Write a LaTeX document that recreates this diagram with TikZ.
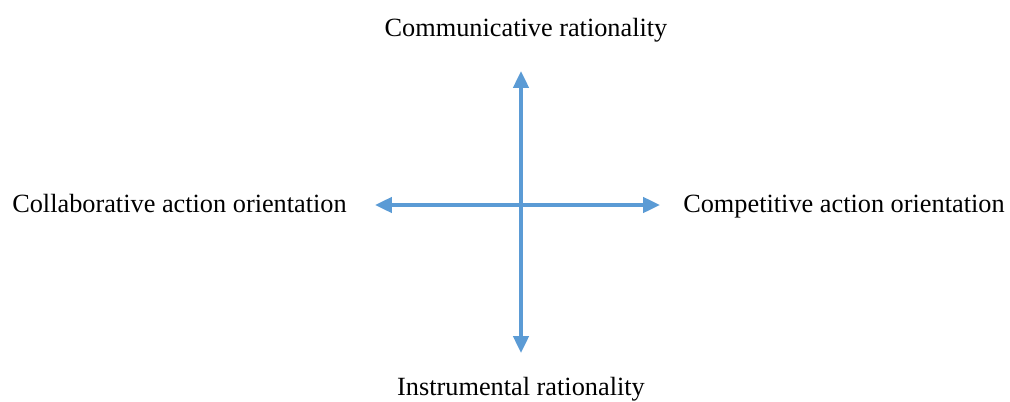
\documentclass[tikz,border=0pt]{standalone}
\usepackage{fontspec}
\setmainfont{Liberation Serif}
\usepackage{tikz}
\usetikzlibrary{arrows.meta,positioning}
\definecolor{axisblue}{HTML}{5B9BD5}

\begin{document}
\begin{tikzpicture}[
  x=0.025cm,y=-0.025cm,
  label/.style={inner sep=0pt,font=\fontsize{18.7}{22}\selectfont},
  axis/.style={{Triangle[length=0.42cm,width=0.38cm]}-{Triangle[length=0.42cm,width=0.38cm]},
    line width=2.4pt,color=axisblue}
]
  \useasboundingbox (0,0) rectangle (1010,401);
  % axis end points
  \coordinate (top) at (521,71);
  \coordinate (bottom) at (521,353);
  \coordinate (left) at (375,205);
  \coordinate (right) at (660,205);

  \node[label,anchor=base] (comm) at (526,36) {Communicative rationality};
  \node[label,anchor=base] (instr) at (521,395) {Instrumental rationality};
  \node[label,anchor=base west] (collab) at (12,212) {Collaborative action orientation};
  \node[label,anchor=base west] (compet) at (683,212) {Competitive action orientation};

  \draw[axis] (top) -- (bottom);
  \draw[axis] (left) -- (right);
\end{tikzpicture}
\end{document}
